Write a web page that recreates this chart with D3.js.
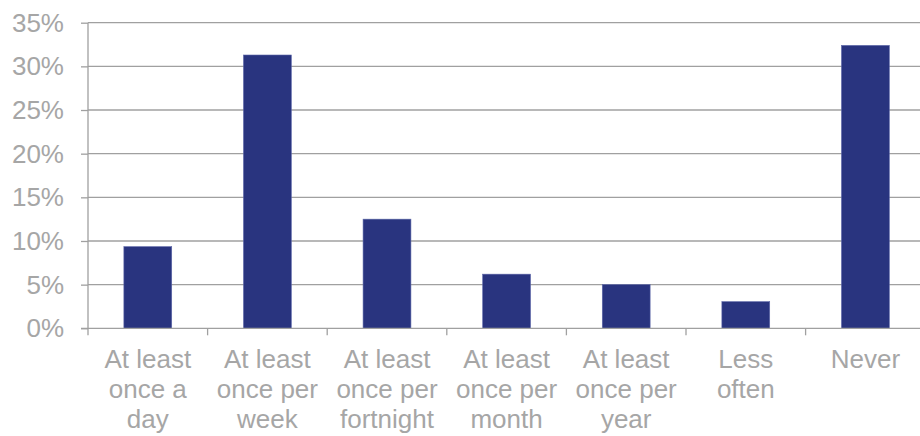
<!DOCTYPE html>
<html><head><meta charset="utf-8">
<script src="https://cdn.jsdelivr.net/npm/d3@7"></script>
<style>body{margin:0;background:#fff;} svg{display:block;}</style>
</head><body>
<svg id="chart" width="920" height="436"></svg>
<script>
const categories = [
  ["At least","once a","day"],
  ["At least","once per","week"],
  ["At least","once per","fortnight"],
  ["At least","once per","month"],
  ["At least","once per","year"],
  ["Less","often"],
  ["Never"]
];
const values = [9.35, 31.3, 12.5, 6.2, 5.0, 3.05, 32.4];
const yTicks = [0, 5, 10, 15, 20, 25, 30, 35];

const svg = d3.select("#chart");
const pLeft = 88, pRight = 925.2, pTop = 22.7, pBottom = 328.3;
const x = d3.scaleBand().domain(d3.range(categories.length)).range([pLeft, pRight]).paddingInner(0.6).paddingOuter(0.3);
const xTickScale = d3.scaleLinear().domain([0, categories.length]).range([pLeft, pRight]);
const y = d3.scaleLinear().domain([0, 35]).range([pBottom, pTop]);
const grey = "#a6a6a6", lineCol = "#a0a0a0";
const font = "Liberation Sans, Arial, sans-serif";
const fs = 26;

// gridlines
svg.append("g").selectAll("line").data(yTicks.filter(d => d > 0)).join("line")
  .attr("x1", pLeft).attr("x2", 920).attr("y1", d => y(d)).attr("y2", d => y(d))
  .attr("stroke", lineCol).attr("stroke-width", 1.3);

// y axis
const yAxis = svg.append("g").attr("transform", `translate(${pLeft},0)`)
  .call(d3.axisLeft(y).tickValues(yTicks).tickFormat(d => d + "%").tickSize(7).tickPadding(17));
yAxis.select(".domain").attr("stroke", lineCol).attr("stroke-width", 1.3).attr("d", `M0,${pTop}V${pBottom}`);
yAxis.selectAll(".tick line").attr("stroke", lineCol).attr("stroke-width", 1.3);
yAxis.selectAll(".tick text").attr("fill", grey).attr("font-family", font).attr("font-size", fs).attr("dy", "0.33em");

// bars
svg.append("g").selectAll("rect").data(values).join("rect")
  .attr("x", (d, i) => x(i)).attr("width", x.bandwidth())
  .attr("y", d => y(d)).attr("height", d => y(0) - y(d))
  .attr("fill", "#29347f").attr("stroke", "#5c66a8").attr("stroke-width", 0.6);

// x axis baseline
svg.append("line").attr("x1", pLeft - 7).attr("x2", 920).attr("y1", pBottom).attr("y2", pBottom)
  .attr("stroke", lineCol).attr("stroke-width", 1.3);
// category ticks
svg.append("g").selectAll("line").data(d3.range(categories.length + 1)).join("line")
  .attr("x1", d => xTickScale(d)).attr("x2", d => xTickScale(d))
  .attr("y1", pBottom).attr("y2", pBottom + 7)
  .attr("stroke", lineCol).attr("stroke-width", 1.3);

// category labels
const lab = svg.append("g").selectAll("text").data(categories).join("text")
  .attr("x", (d, i) => x(i) + x.bandwidth() / 2).attr("y", 368.3)
  .attr("text-anchor", "middle").attr("fill", grey)
  .attr("font-family", font).attr("font-size", fs);
lab.selectAll("tspan").data(d => d).join("tspan")
  .attr("x", function() { return this.parentNode.getAttribute("x"); })
  .attr("dy", (d, i) => i === 0 ? 0 : 30)
  .text(d => d);
</script>
</body></html>
